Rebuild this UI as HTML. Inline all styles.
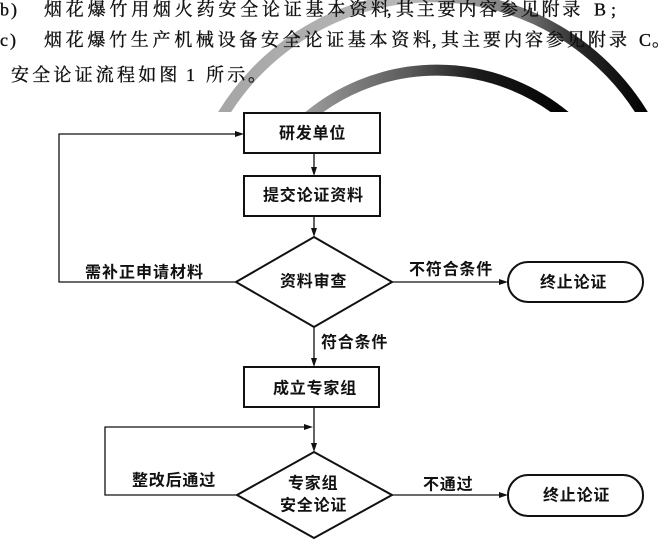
<!DOCTYPE html>
<html>
<head>
<meta charset="utf-8">
<style>
  html, body { margin:0; padding:0; background:#fff; }
  body { width:672px; height:541px; overflow:hidden; }
  svg { display:block; }
  .top { font-family:"Liberation Serif","Noto Serif CJK SC",serif; font-size:18px; fill:#111; stroke:#111; stroke-width:0.35px; }
  .lbl { font-family:"Liberation Sans","Noto Sans CJK SC",sans-serif; font-size:16px; font-weight:700; fill:#111; letter-spacing:0.8px; }
</style>
</head>
<body>
<svg width="672" height="541" viewBox="0 0 672 541" xmlns="http://www.w3.org/2000/svg">
  <defs>
    <clipPath id="wm"><rect x="0" y="-20" width="672" height="132"/></clipPath>
    <linearGradient id="gOuter" gradientUnits="userSpaceOnUse" x1="217" y1="0" x2="649" y2="0">
      <stop offset="0" stop-color="#a6a6a6"/>
      <stop offset="0.45" stop-color="#b8b8b8"/>
      <stop offset="0.7" stop-color="#7a7a7a"/>
      <stop offset="0.85" stop-color="#262626"/>
      <stop offset="1" stop-color="#000"/>
    </linearGradient>
    <linearGradient id="gInner" gradientUnits="userSpaceOnUse" x1="299" y1="0" x2="575" y2="0">
      <stop offset="0" stop-color="#a0a0a0"/>
      <stop offset="0.4" stop-color="#5a5a5a"/>
      <stop offset="0.65" stop-color="#1a1a1a"/>
      <stop offset="1" stop-color="#000"/>
    </linearGradient>
  </defs>

  <!-- watermark arcs -->
  <g clip-path="url(#wm)" fill="none">
    <path d="M 217 125 A 246 246 0 0 1 649 125" stroke="url(#gOuter)" stroke-width="11"/>
    <path d="M 299 125 A 201 201 0 0 1 575 125" stroke="url(#gInner)" stroke-width="11"/>
  </g>

  <!-- top text -->
  <g class="top" dominant-baseline="central">
    <text x="0" y="9.5" letter-spacing="2">b)</text>
    <text x="44" y="9.5" letter-spacing="3.8">烟花爆竹用烟火药安全论证基本资料</text>
    <text x="387" y="9.5">,</text>
    <text x="396" y="9.5" letter-spacing="2.8">其主要内容参见附录</text>
    <text x="594" y="9.5" letter-spacing="5">B;</text>

    <text x="0" y="40" letter-spacing="2">c)</text>
    <text x="44" y="40" letter-spacing="3.7">烟花爆竹生产机械设备安全论证基本资料</text>
    <text x="432" y="40">,</text>
    <text x="441" y="40" letter-spacing="3">其主要内容参见附录</text>
    <text x="639" y="40">C</text>
    <text x="652" y="40">。</text>

    <text x="11" y="75" letter-spacing="3.2">安全论证流程如图</text>
    <text x="186" y="75">1</text>
    <text x="206" y="75" letter-spacing="3.2">所示</text>
    <text x="248" y="75">。</text>
  </g>

  <!-- shapes -->
  <g fill="none" stroke="#111" stroke-width="2">
    <rect x="244" y="113" width="136" height="40"/>
    <rect x="244" y="176" width="136" height="40"/>
    <polygon points="314,237 392,282 314,327 236,282"/>
    <rect x="508" y="262" width="135" height="40" rx="20" ry="20"/>
    <rect x="244" y="367" width="135" height="40"/>
    <polygon points="314,452 392,495 314,538 237,495"/>
    <rect x="508" y="475" width="135" height="41" rx="20" ry="20"/>
  </g>

  <!-- connectors -->
  <g fill="none" stroke="#111" stroke-width="1.3">
    <line x1="314" y1="153" x2="314" y2="170"/>
    <line x1="314" y1="216" x2="314" y2="231"/>
    <line x1="314" y1="327" x2="314" y2="361"/>
    <line x1="314" y1="407" x2="314" y2="446"/>
    <polyline points="236,282 59,282 59,134 238,134"/>
    <line x1="392" y1="282" x2="502" y2="282"/>
    <polyline points="237,495 105,495 105,427 308,427"/>
    <line x1="392" y1="495" x2="502" y2="495"/>
  </g>

  <!-- arrowheads -->
  <g fill="#111">
    <polygon points="314,176 311,167 317,167"/>
    <polygon points="314,237 311,228 317,228"/>
    <polygon points="314,367 311,358 317,358"/>
    <polygon points="314,452 311,443 317,443"/>
    <polygon points="244,134 235,131 235,137"/>
    <polygon points="508,282 499,279 499,285"/>
    <polygon points="313,427 304,424 304,430"/>
    <polygon points="508,495 499,492 499,498"/>
  </g>

  <!-- labels -->
  <g class="lbl" dominant-baseline="central">
    <text x="279" y="134">研发单位</text>
    <text x="263" y="196">提交论证资料</text>
    <text x="280" y="282">资料审查</text>
    <text x="85" y="273" letter-spacing="1">需补正申请材料</text>
    <text x="409" y="270">不符合条件</text>
    <text x="540" y="283">终止论证</text>
    <text x="321" y="343">符合条件</text>
    <text x="273" y="389">成立专家组</text>
    <text x="132" y="481">整改后通过</text>
    <text x="288" y="484">专家组</text>
    <text x="280" y="506">安全论证</text>
    <text x="423" y="485">不通过</text>
    <text x="543" y="496">终止论证</text>
  </g>
</svg>
</body>
</html>
